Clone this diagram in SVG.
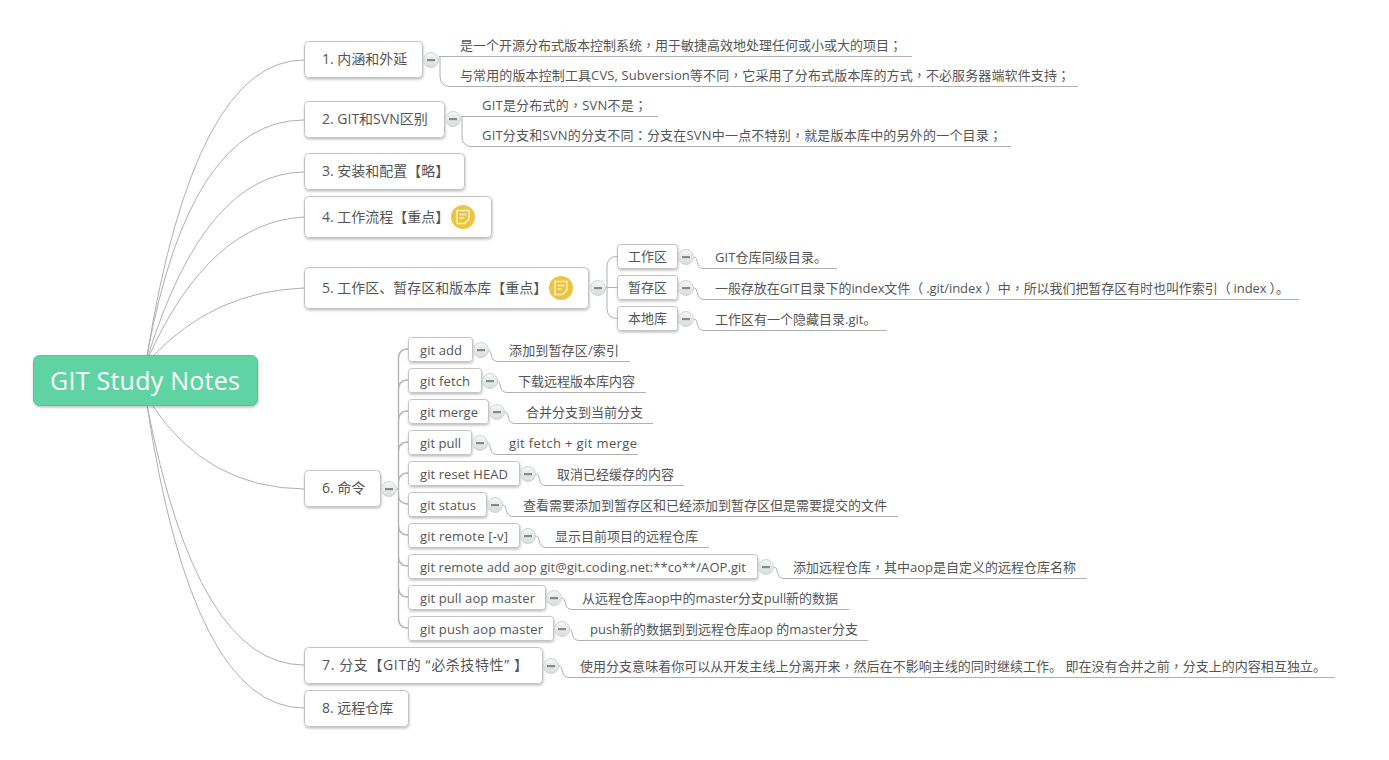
<svg xmlns="http://www.w3.org/2000/svg" width="1389" height="760" viewBox="0 0 1389 760">
<defs>
<style>
text{font-family:"Open Sans","Noto Sans CJK SC",sans-serif;font-size:13px;fill:#555}
.l1{font-size:14px}
.p{font-family:"Noto Sans CJK TC",sans-serif}
.n{fill:#fff;stroke:#c4c4c4;stroke-width:1;filter:url(#sh)}
.c{fill:none;stroke:#b0b0b0;stroke-width:1}
.t{fill:none;stroke:#b4b4b4;stroke-width:1.4}
.b{fill:url(#bg);stroke:#d0d4d4;stroke-width:1}
.m{fill:#858a8a}
.ni{fill:#ecc440}
.nl{fill:none;stroke:#fbeec4;stroke-width:1.5}
</style>
<linearGradient id="bg" x1="0" y1="0" x2="0" y2="1"><stop offset="0" stop-color="#f6f7f7"/><stop offset="1" stop-color="#d8dcdc"/></linearGradient>
<filter id="sh" x="-10%" y="-20%" width="120%" height="150%"><feDropShadow dx="0.5" dy="1.5" stdDeviation="1.2" flood-color="#000" flood-opacity="0.25"/></filter>
<g id="btn"><circle class="b" r="7.500"/><rect class="m" x="-4" y="-1" width="8" height="2.200"/></g>
<g id="note"><circle class="ni" r="12"/><path class="nl" d="M-6 -6.500H6V2L1.500 6.500H-6ZM-3.500 -2.500H3.500M-3.500 1H1"/></g>
</defs>
<g id="connectors">
<path class="c" d="M147 356Q195 60 304 60"/>
<path class="c" d="M147 356Q190 120 304 120"/>
<path class="c" d="M148 356Q205 173 304 172"/>
<path class="c" d="M149 356Q210 222 304 217"/>
<path class="c" d="M153 356Q215 291 304 288"/>
<path class="c" d="M152 405Q207 488 304 489"/>
<path class="c" d="M147 405Q197 665 304 665"/>
<path class="c" d="M147 405Q193 708 304 708"/>
<path class="c" d="M439 56.500H912M440 57V76Q440 86.500 450 86.500H1078"/>
<path class="c" d="M461 116.500H658M462 117V136Q462 146.500 472 146.500H1011"/>
<path class="c" d="M606 287.500H617M607 287.500V267Q607 256.500 617 256.500M607 287.500V308Q607 318.500 617 318.500"/>
<path class="c" d="M694 257C699 257 695 268.500 704 268.500H837M694 288C699 288 695 299.500 704 299.500H1299M694 319C699 319 695 330.500 704 330.500H887"/>
<path class="t" d="M397 489H398.500M398.500 359Q398.500 349 408 349M398.500 390Q398.500 380 408 380M398.500 421Q398.500 411 408 411M398.500 452Q398.500 442 408 442M398.500 483Q398.500 473 408 473M398.500 495Q398.500 504 408 504M398.500 525Q398.500 535 408 535M398.500 556Q398.500 566 408 566M398.500 587Q398.500 597 408 597M398.500 618Q398.500 628 408 628M398.500 359V618"/>
<path class="c" d="M488 350C493 350 489 361.500 498 361.500H630M497 381C502 381 498 392.500 507 392.500H646M505 412C510 412 506 423.500 515 423.500H653M487 443C492 443 488 454.500 497 454.500H638M536 474C541 474 537 485.500 546 485.500H684M503 505C508 505 504 516.500 513 516.500H898M536 536C541 536 537 547.500 546 547.500H709M774 567C779 567 775 578.500 784 578.500H1087M562 598C567 598 563 609.500 572 609.500H849M569 629C574 629 570 640.500 579 640.500H868M559 666C564 666 560 677.500 569 677.500H1335"/>
</g>
<g id="root"><rect x="33.500" y="355.500" width="224" height="50" rx="6" fill="#5fd3a3" stroke="#54c497" filter="url(#sh)"/><text x="50" y="390" textLength="190" style="font-size:25px;fill:#fff">GIT Study Notes</text></g>
<g id="n1"><rect class="n" x="304.500" y="41.500" width="118" height="36" rx="4"/><text class="l1" x="322" y="64">1. 内涵和外延</text><use href="#btn" x="431" y="60"/></g>
<g id="n2"><rect class="n" x="304.500" y="101.500" width="140" height="36" rx="4"/><text class="l1" x="322" y="124">2. GIT和SVN区别</text><use href="#btn" x="453" y="119"/></g>
<g id="n3"><rect class="n" x="304.500" y="153.500" width="160" height="36" rx="4"/><text class="l1" x="322" y="176">3. 安装和配置【略】</text></g>
<g id="n4"><rect class="n" x="304.500" y="196.500" width="187" height="41" rx="4"/><text class="l1" x="322" y="222">4. 工作流程【重点】</text><use href="#note" x="463" y="217"/></g>
<g id="n5"><rect class="n" x="304.500" y="267.500" width="284" height="41" rx="4"/><text class="l1" x="322" y="293">5. 工作区、暂存区和版本库【重点】</text><use href="#note" x="561" y="288"/><use href="#btn" x="598" y="288"/></g>
<g id="n6"><rect class="n" x="304.500" y="470.500" width="76" height="36" rx="4"/><text class="l1" x="322" y="493">6. 命令</text><use href="#btn" x="389" y="489"/></g>
<g id="n7"><rect class="n" x="304.500" y="647.500" width="238" height="36" rx="4"/><text class="l1" x="322" y="670" textLength="206">7. 分支【GIT的 “必杀技特性” 】</text><use href="#btn" x="551" y="666"/></g>
<g id="n8"><rect class="n" x="304.500" y="690.500" width="104" height="36" rx="4"/><text class="l1" x="322" y="713">8. 远程仓库</text></g>
<g id="a1"><rect class="n" x="617.500" y="244.500" width="60" height="24" rx="3"/><text x="628" y="261">工作区</text><use href="#btn" x="686" y="257"/></g>
<g id="a2"><rect class="n" x="617.500" y="275.500" width="60" height="24" rx="3"/><text x="628" y="292">暂存区</text><use href="#btn" x="686" y="288"/></g>
<g id="a3"><rect class="n" x="617.500" y="306.500" width="60" height="24" rx="3"/><text x="628" y="323">本地库</text><use href="#btn" x="686" y="319"/></g>
<g id="c1"><rect class="n" x="408.500" y="337.500" width="64" height="24" rx="3"/><text x="420" y="355" textLength="42">git add</text><use href="#btn" x="481" y="350"/></g>
<g id="c2"><rect class="n" x="408.500" y="368.500" width="73" height="24" rx="3"/><text x="420" y="386" textLength="50">git fetch</text><use href="#btn" x="490" y="381"/></g>
<g id="c3"><rect class="n" x="408.500" y="399.500" width="80" height="24" rx="3"/><text x="420" y="417" textLength="58">git merge</text><use href="#btn" x="497" y="412"/></g>
<g id="c4"><rect class="n" x="408.500" y="430.500" width="63" height="24" rx="3"/><text x="420" y="448" textLength="41">git pull</text><use href="#btn" x="480" y="443"/></g>
<g id="c5"><rect class="n" x="408.500" y="461.500" width="111" height="24" rx="3"/><text x="420" y="479" textLength="88">git reset HEAD</text><use href="#btn" x="528" y="474"/></g>
<g id="c6"><rect class="n" x="408.500" y="492.500" width="78" height="24" rx="3"/><text x="420" y="510" textLength="56">git status</text><use href="#btn" x="495" y="505"/></g>
<g id="c7"><rect class="n" x="408.500" y="523.500" width="111" height="24" rx="3"/><text x="420" y="541" textLength="88">git remote [-v]</text><use href="#btn" x="528" y="536"/></g>
<g id="c8"><rect class="n" x="408.500" y="554.500" width="349" height="24" rx="3"/><text x="420" y="572" textLength="326">git remote add aop git@git.coding.net:**co**/AOP.git</text><use href="#btn" x="766" y="567"/></g>
<g id="c9"><rect class="n" x="408.500" y="585.500" width="137" height="24" rx="3"/><text x="420" y="603" textLength="115">git pull aop master</text><use href="#btn" x="554" y="598"/></g>
<g id="c10"><rect class="n" x="408.500" y="616.500" width="145" height="24" rx="3"/><text x="420" y="634" textLength="123">git push aop master</text><use href="#btn" x="562" y="629"/></g>
<g id="leaves">
<text x="460" y="50" textLength="442">是一个开源分布式版本控制系统<tspan class="p">，</tspan>用于敏捷高效地处理任何或小或大的项目<tspan class="p">；</tspan></text>
<text x="460" y="80" textLength="610">与常用的版本控制工具CVS, Subversion等不同<tspan class="p">，</tspan>它采用了分布式版本库的方式<tspan class="p">，</tspan>不必服务器端软件支持<tspan class="p">；</tspan></text>
<text x="482" y="110" textLength="165">GIT是分布式的<tspan class="p">，</tspan>SVN不是<tspan class="p">；</tspan></text>
<text x="482" y="140" textLength="520">GIT分支和SVN的分支不同<tspan class="p">：</tspan>分支在SVN中一点不特别<tspan class="p">，</tspan>就是版本库中的另外的一个目录<tspan class="p">；</tspan></text>
<text x="715" y="262" textLength="112">GIT仓库同级目录。</text>
<text x="715" y="293" textLength="574">一般存放在GIT目录下的index文件<tspan class="p">（</tspan><tspan dx="3">.git/index</tspan><tspan class="p" dx="3">）</tspan>中<tspan class="p">，</tspan>所以我们把暂存区有时也叫作索引<tspan class="p">（</tspan><tspan dx="3">index</tspan><tspan class="p" dx="3">）</tspan>。</text>
<text x="715" y="324">工作区有一个隐藏目录.git。</text>
<text x="509" y="355" textLength="110">添加到暂存区/索引</text>
<text x="518" y="386">下载远程版本库内容</text>
<text x="526" y="417">合并分支到当前分支</text>
<text x="509" y="448" textLength="128">git fetch + git merge</text>
<text x="557" y="479">取消已经缓存的内容</text>
<text x="523" y="510">查看需要添加到暂存区和已经添加到暂存区但是需要提交的文件</text>
<text x="555" y="541">显示目前项目的远程仓库</text>
<text x="793" y="572" textLength="283">添加远程仓库<tspan class="p">，</tspan>其中aop是自定义的远程仓库名称</text>
<text x="582" y="603" textLength="256">从远程仓库aop中的master分支pull新的数据</text>
<text x="590" y="634" textLength="268">push新的数据到到远程仓库aop 的master分支</text>
<text x="580" y="671" textLength="746">使用分支意味着你可以从开发主线上分离开来<tspan class="p">，</tspan>然后在不影响主线的同时继续工作。 即在没有合并之前<tspan class="p">，</tspan>分支上的内容相互独立。</text>
</g>
</svg>
